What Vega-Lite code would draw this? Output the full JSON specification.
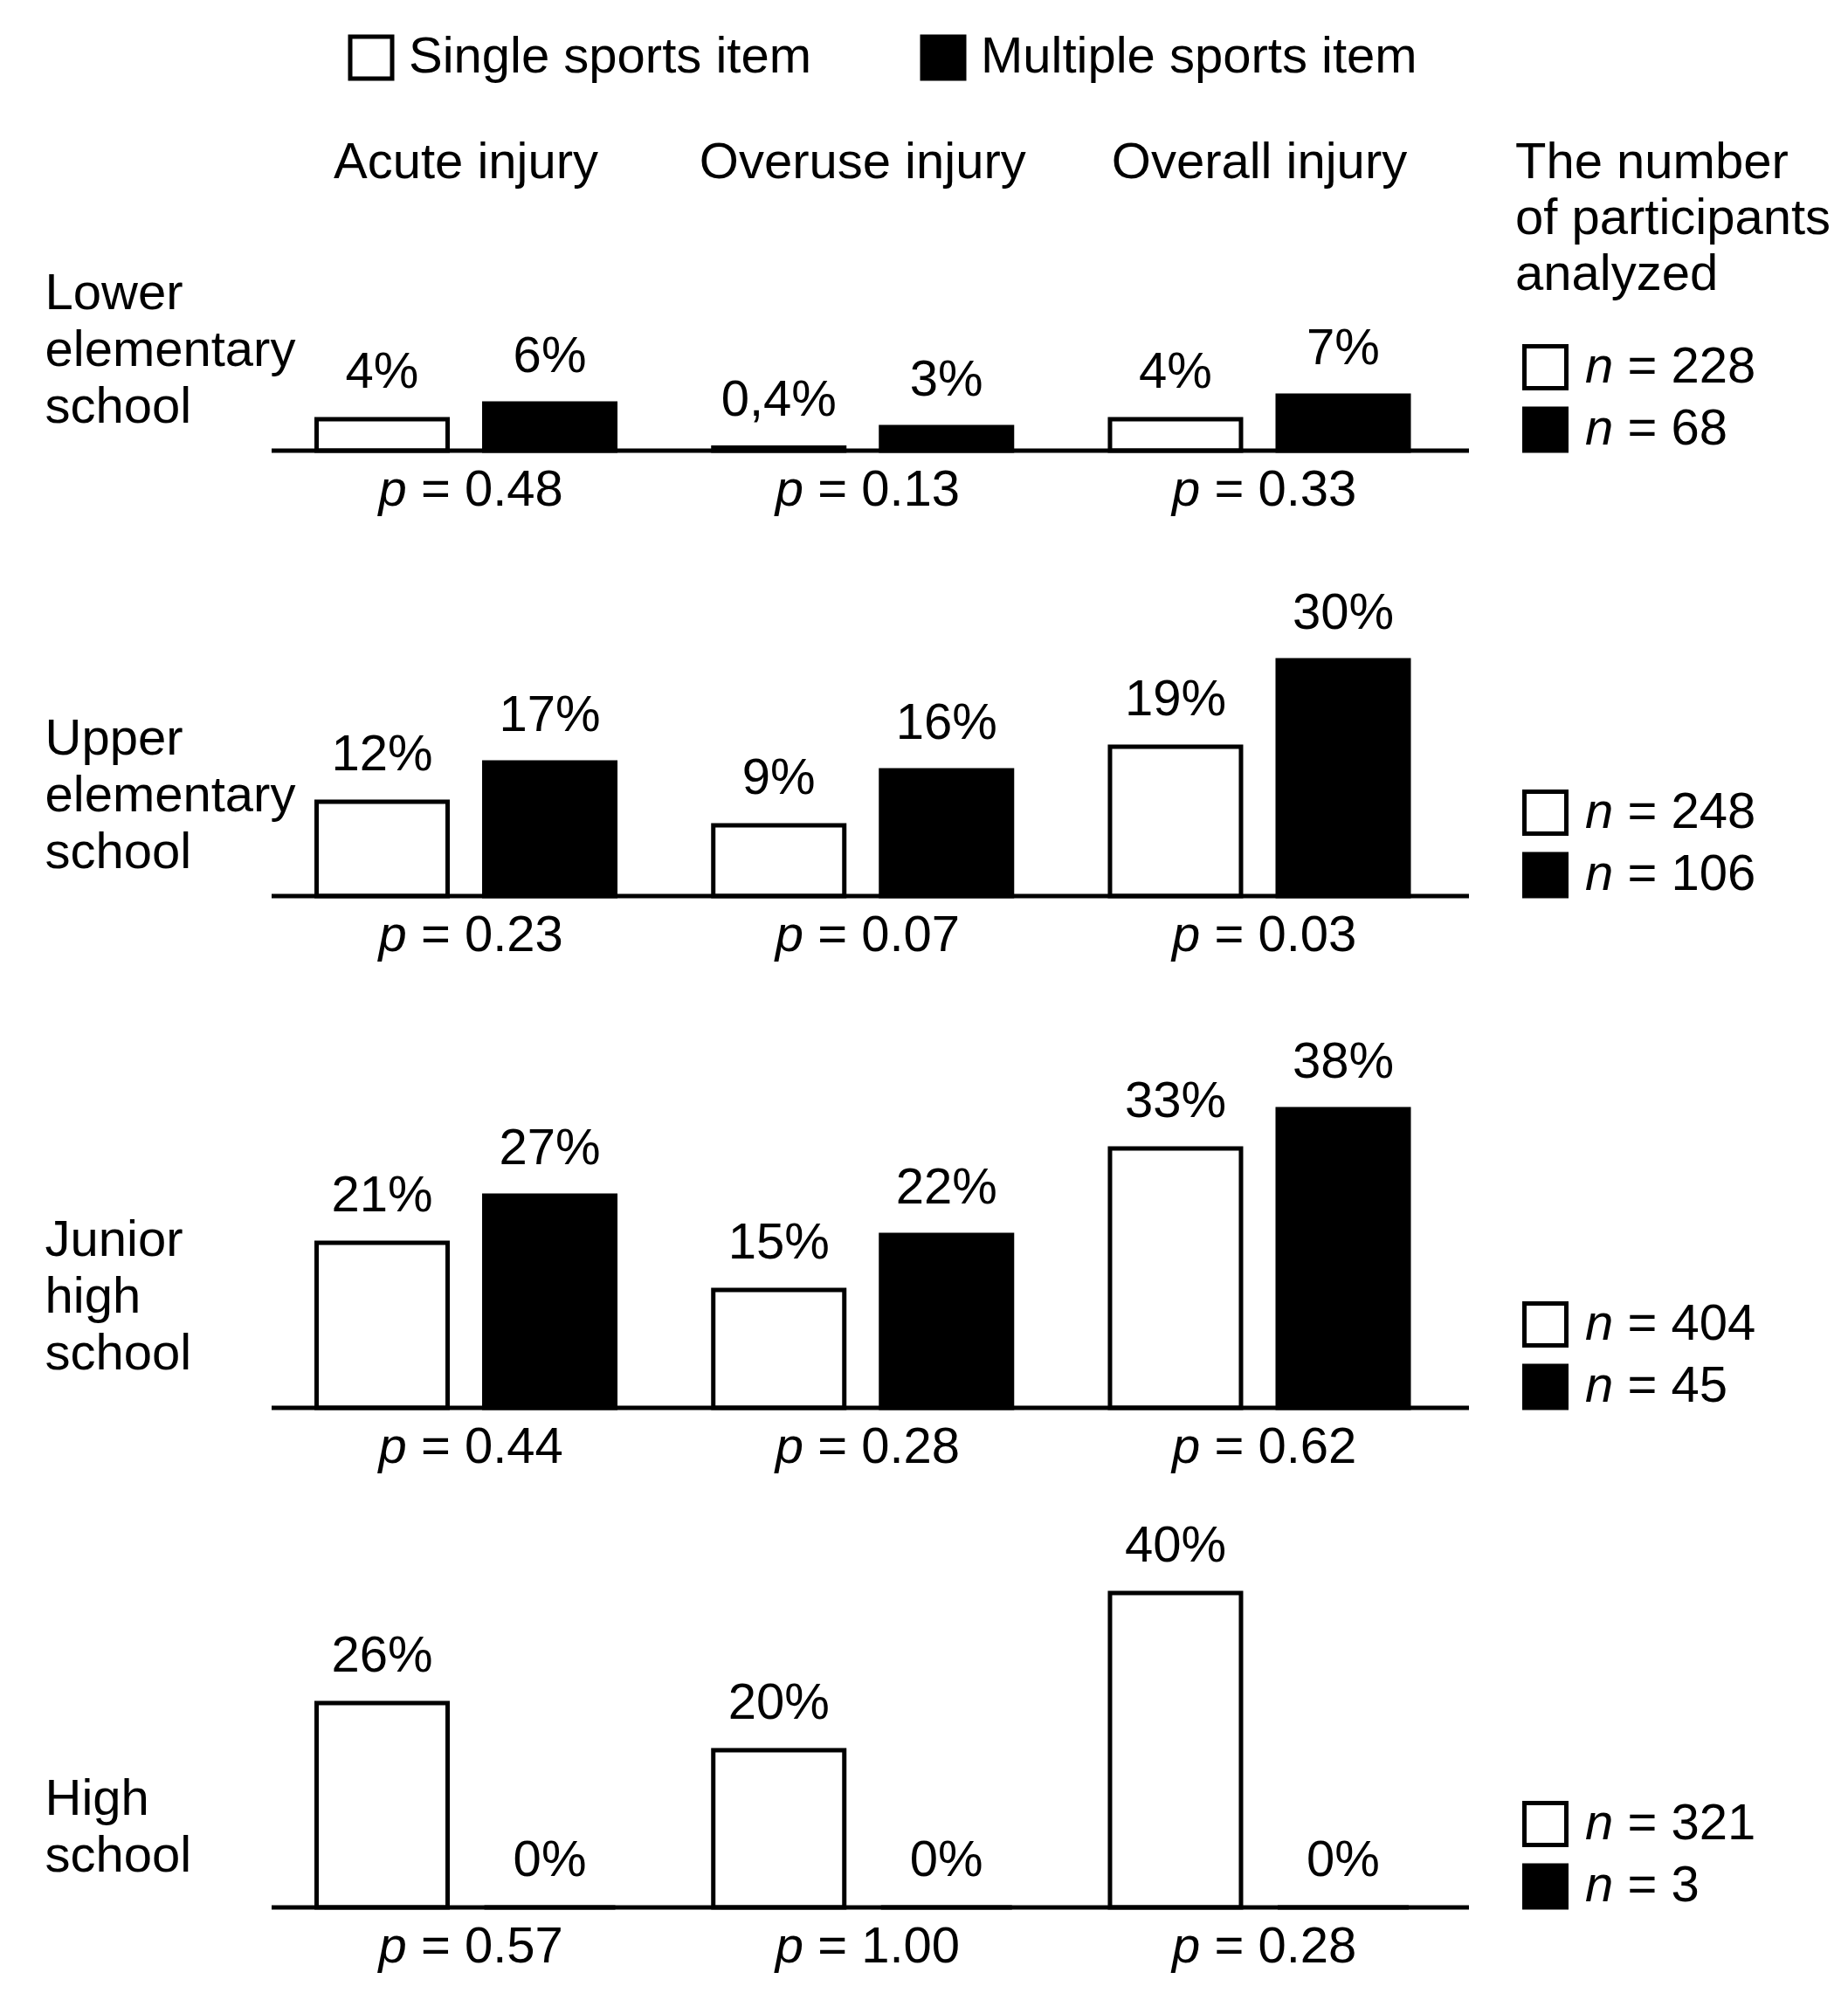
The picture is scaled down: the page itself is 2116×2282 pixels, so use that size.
{
  "$schema": "https://vega.github.io/schema/vega-lite/v6.json",
  "background": "white",
  "padding": {"left": 51, "top": 0, "right": 0, "bottom": 0},
  "autosize": {"type": "pad"},
  "bounds": "flush",
  "spacing": 0,
  "datasets": {
    "injuries": [
      {"injury": "Acute injury"},
      {"injury": "Overuse injury"},
      {"injury": "Overall injury"}
    ],
    "bars": [
      {"school": "Lower elementary school", "injury": "Acute injury", "item": "Single sports item", "value": 4, "label": "4%"},
      {"school": "Lower elementary school", "injury": "Acute injury", "item": "Multiple sports item", "value": 6, "label": "6%"},
      {"school": "Lower elementary school", "injury": "Overuse injury", "item": "Single sports item", "value": 0.4, "label": "0,4%"},
      {"school": "Lower elementary school", "injury": "Overuse injury", "item": "Multiple sports item", "value": 3, "label": "3%"},
      {"school": "Lower elementary school", "injury": "Overall injury", "item": "Single sports item", "value": 4, "label": "4%"},
      {"school": "Lower elementary school", "injury": "Overall injury", "item": "Multiple sports item", "value": 7, "label": "7%"},
      {"school": "Upper elementary school", "injury": "Acute injury", "item": "Single sports item", "value": 12, "label": "12%"},
      {"school": "Upper elementary school", "injury": "Acute injury", "item": "Multiple sports item", "value": 17, "label": "17%"},
      {"school": "Upper elementary school", "injury": "Overuse injury", "item": "Single sports item", "value": 9, "label": "9%"},
      {"school": "Upper elementary school", "injury": "Overuse injury", "item": "Multiple sports item", "value": 16, "label": "16%"},
      {"school": "Upper elementary school", "injury": "Overall injury", "item": "Single sports item", "value": 19, "label": "19%"},
      {"school": "Upper elementary school", "injury": "Overall injury", "item": "Multiple sports item", "value": 30, "label": "30%"},
      {"school": "Junior high school", "injury": "Acute injury", "item": "Single sports item", "value": 21, "label": "21%"},
      {"school": "Junior high school", "injury": "Acute injury", "item": "Multiple sports item", "value": 27, "label": "27%"},
      {"school": "Junior high school", "injury": "Overuse injury", "item": "Single sports item", "value": 15, "label": "15%"},
      {"school": "Junior high school", "injury": "Overuse injury", "item": "Multiple sports item", "value": 22, "label": "22%"},
      {"school": "Junior high school", "injury": "Overall injury", "item": "Single sports item", "value": 33, "label": "33%"},
      {"school": "Junior high school", "injury": "Overall injury", "item": "Multiple sports item", "value": 38, "label": "38%"},
      {"school": "High school", "injury": "Acute injury", "item": "Single sports item", "value": 26, "label": "26%"},
      {"school": "High school", "injury": "Acute injury", "item": "Multiple sports item", "value": 0, "label": "0%"},
      {"school": "High school", "injury": "Overuse injury", "item": "Single sports item", "value": 20, "label": "20%"},
      {"school": "High school", "injury": "Overuse injury", "item": "Multiple sports item", "value": 0, "label": "0%"},
      {"school": "High school", "injury": "Overall injury", "item": "Single sports item", "value": 40, "label": "40%"},
      {"school": "High school", "injury": "Overall injury", "item": "Multiple sports item", "value": 0, "label": "0%"}
    ],
    "pvals": [
      {"school": "Lower elementary school", "injury": "Acute injury", "p": 0.48},
      {"school": "Lower elementary school", "injury": "Overuse injury", "p": 0.13},
      {"school": "Lower elementary school", "injury": "Overall injury", "p": 0.33},
      {"school": "Upper elementary school", "injury": "Acute injury", "p": 0.23},
      {"school": "Upper elementary school", "injury": "Overuse injury", "p": 0.07},
      {"school": "Upper elementary school", "injury": "Overall injury", "p": 0.03},
      {"school": "Junior high school", "injury": "Acute injury", "p": 0.44},
      {"school": "Junior high school", "injury": "Overuse injury", "p": 0.28},
      {"school": "Junior high school", "injury": "Overall injury", "p": 0.62},
      {"school": "High school", "injury": "Acute injury", "p": 0.57},
      {"school": "High school", "injury": "Overuse injury", "p": 1.00},
      {"school": "High school", "injury": "Overall injury", "p": 0.28}
    ],
    "ns": [
      {"school": "Lower elementary school", "item": "Single sports item", "n": 228},
      {"school": "Lower elementary school", "item": "Multiple sports item", "n": 68},
      {"school": "Upper elementary school", "item": "Single sports item", "n": 248},
      {"school": "Upper elementary school", "item": "Multiple sports item", "n": 106},
      {"school": "Junior high school", "item": "Single sports item", "n": 404},
      {"school": "Junior high school", "item": "Multiple sports item", "n": 45},
      {"school": "High school", "item": "Single sports item", "n": 321},
      {"school": "High school", "item": "Multiple sports item", "n": 3}
    ]
  },
  "vconcat": [
    {
      "width": 1371, "height": 230,
      "layer": [
        {
          "data": {"name": "injuries"},
          "mark": {"type": "text", "baseline": "alphabetic", "dy": 89, "font": "Liberation Sans", "fontSize": 58, "color": "black"},
          "encoding": {
            "x": {"field": "injury", "type": "nominal", "sort": ["Acute injury", "Overuse injury", "Overall injury"], "scale": {"type": "band", "range": [51.5, 1302], "paddingInner": 0.247, "paddingOuter": 0}, "axis": null},
            "text": {"field": "injury", "type": "nominal"}
          }
        },
        {
          "data": {"values": [{"note": "header"}]},
          "mark": {"type": "text", "align": "left", "baseline": "alphabetic", "dx": 738.5, "dy": 89, "lineHeight": 64, "font": "Liberation Sans", "fontSize": 58, "color": "black", "text": ["The number", "of participants", "analyzed"]}
        }
      ]
    },
    {
      "width": 1371, "height": 286,
      "resolve": {"scale": {"y": "independent"}, "axis": {"y": "independent"}},
      "layer": [
        {
          "encoding": {
            "x": {"field": "injury", "type": "nominal", "sort": ["Acute injury", "Overuse injury", "Overall injury"], "scale": {"type": "band", "range": [51.5, 1302], "paddingInner": 0.247, "paddingOuter": 0}, "axis": null}
          },
          "layer": [
            {
              "data": {"name": "bars"},
              "transform": [{"filter": {"field": "school", "equal": "Lower elementary school"}}],
              "encoding": {
                "xOffset": {"field": "item", "type": "nominal", "sort": ["Single sports item", "Multiple sports item"], "scale": {"paddingInner": 0.21875, "paddingOuter": 0}},
                "y": {"field": "value", "type": "quantitative", "scale": {"domain": [0, 31.78], "nice": false, "zero": true}, "axis": {"title": ["Lower", "elementary", "school"], "domain": false, "ticks": false, "labels": false, "grid": false, "titleAngle": 0, "titleAlign": "left", "titleBaseline": "alphabetic", "titleX": -260, "titleY": 123, "titleFont": "Liberation Sans", "titleFontSize": 58, "titleFontWeight": "normal", "titleLineHeight": 65, "titleColor": "black"}}
              },
              "layer": [
                {"mark": {"type": "bar", "stroke": "black", "strokeWidth": 5},
                 "encoding": {"fill": {"field": "item", "type": "nominal", "scale": {"domain": ["Single sports item", "Multiple sports item"], "range": ["white", "black"]}, "legend": {"title": null, "orient": "none", "legendX": 85, "legendY": 37, "direction": "horizontal", "symbolType": "square", "symbolSize": 2304, "symbolStrokeWidth": 5, "symbolStrokeColor": "black", "symbolOpacity": 1, "labelFont": "Liberation Sans", "labelFontSize": 58, "labelColor": "black", "labelLimit": 1000, "labelOffset": 14, "columnPadding": 117, "padding": 0}}}},
                {"mark": {"type": "text", "baseline": "alphabetic", "dy": -36, "font": "Liberation Sans", "fontSize": 58, "color": "black"},
                 "encoding": {"text": {"field": "label", "type": "nominal"}}}
              ]
            },
            {
              "data": {"name": "pvals"},
              "transform": [{"filter": {"field": "school", "equal": "Lower elementary school"}}],
              "layer": [
                {"mark": {"type": "text", "align": "left", "baseline": "alphabetic", "dx": -100, "dy": 206, "font": "Liberation Sans", "fontStyle": "italic", "fontSize": 58, "color": "black"}, "encoding": {"text": {"value": "p"}}},
                {"mark": {"type": "text", "align": "left", "baseline": "alphabetic", "dx": -51.6, "dy": 206, "font": "Liberation Sans", "fontSize": 58, "color": "black"}, "encoding": {"text": {"value": "="}}},
                {"mark": {"type": "text", "align": "left", "baseline": "alphabetic", "dx": -1.6, "dy": 206, "font": "Liberation Sans", "fontSize": 58, "color": "black"}, "encoding": {"text": {"field": "p", "type": "quantitative", "format": ".2f"}}}
              ]
            }
          ]
        },
        {
          "data": {"values": [{"note": "baseline"}]},
          "mark": {"type": "rule", "strokeWidth": 5, "color": "black"},
          "encoding": {"y": {"datum": 0, "type": "quantitative", "scale": {"domain": [0, 10]}, "axis": null}}
        },
        {
          "data": {"name": "ns"},
          "transform": [{"filter": {"field": "school", "equal": "Lower elementary school"}}],
          "encoding": {"y": {"field": "item", "type": "nominal", "sort": ["Single sports item", "Multiple sports item"], "scale": {"type": "point", "range": [190.5, 262], "padding": 0}, "axis": null}},
          "layer": [
            {"mark": {"type": "point", "shape": "square", "size": 2304, "filled": true, "stroke": "black", "strokeWidth": 5, "opacity": 1, "xOffset": 773},
             "encoding": {"fill": {"field": "item", "type": "nominal", "scale": {"domain": ["Single sports item", "Multiple sports item"], "range": ["white", "black"]}, "legend": {"title": null, "orient": "none", "legendX": 85, "legendY": 37, "direction": "horizontal", "symbolType": "square", "symbolSize": 2304, "symbolStrokeWidth": 5, "symbolStrokeColor": "black", "symbolOpacity": 1, "labelFont": "Liberation Sans", "labelFontSize": 58, "labelColor": "black", "labelLimit": 1000, "labelOffset": 14, "columnPadding": 117, "padding": 0}}}},
            {"mark": {"type": "text", "align": "left", "baseline": "middle", "dx": 818.5, "font": "Liberation Sans", "fontStyle": "italic", "fontSize": 58, "color": "black"}, "encoding": {"text": {"value": "n"}}},
            {"mark": {"type": "text", "align": "left", "baseline": "middle", "dx": 866.9, "font": "Liberation Sans", "fontSize": 58, "color": "black"}, "encoding": {"text": {"value": "="}}},
            {"mark": {"type": "text", "align": "left", "baseline": "middle", "dx": 916.9, "font": "Liberation Sans", "fontSize": 58, "color": "black"}, "encoding": {"text": {"field": "n", "type": "quantitative", "format": "d"}}}
          ]
        }
      ]
    },
    {
      "width": 1371, "height": 510,
      "resolve": {"scale": {"y": "independent"}, "axis": {"y": "independent"}},
      "layer": [
        {
          "encoding": {
            "x": {"field": "injury", "type": "nominal", "sort": ["Acute injury", "Overuse injury", "Overall injury"], "scale": {"type": "band", "range": [51.5, 1302], "paddingInner": 0.247, "paddingOuter": 0}, "axis": null}
          },
          "layer": [
            {
              "data": {"name": "bars"},
              "transform": [{"filter": {"field": "school", "equal": "Upper elementary school"}}],
              "encoding": {
                "xOffset": {"field": "item", "type": "nominal", "sort": ["Single sports item", "Multiple sports item"], "scale": {"paddingInner": 0.21875, "paddingOuter": 0}},
                "y": {"field": "value", "type": "quantitative", "scale": {"domain": [0, 56.67], "nice": false, "zero": true}, "axis": {"title": ["Upper", "elementary", "school"], "domain": false, "ticks": false, "labels": false, "grid": false, "titleAngle": 0, "titleAlign": "left", "titleBaseline": "alphabetic", "titleX": -260, "titleY": 347, "titleFont": "Liberation Sans", "titleFontSize": 58, "titleFontWeight": "normal", "titleLineHeight": 65, "titleColor": "black"}}
              },
              "layer": [
                {"mark": {"type": "bar", "stroke": "black", "strokeWidth": 5},
                 "encoding": {"fill": {"field": "item", "type": "nominal", "scale": {"domain": ["Single sports item", "Multiple sports item"], "range": ["white", "black"]}, "legend": {"title": null, "orient": "none", "legendX": 85, "legendY": 37, "direction": "horizontal", "symbolType": "square", "symbolSize": 2304, "symbolStrokeWidth": 5, "symbolStrokeColor": "black", "symbolOpacity": 1, "labelFont": "Liberation Sans", "labelFontSize": 58, "labelColor": "black", "labelLimit": 1000, "labelOffset": 14, "columnPadding": 117, "padding": 0}}}},
                {"mark": {"type": "text", "baseline": "alphabetic", "dy": -36, "font": "Liberation Sans", "fontSize": 58, "color": "black"},
                 "encoding": {"text": {"field": "label", "type": "nominal"}}}
              ]
            },
            {
              "data": {"name": "pvals"},
              "transform": [{"filter": {"field": "school", "equal": "Upper elementary school"}}],
              "layer": [
                {"mark": {"type": "text", "align": "left", "baseline": "alphabetic", "dx": -100, "dy": 318, "font": "Liberation Sans", "fontStyle": "italic", "fontSize": 58, "color": "black"}, "encoding": {"text": {"value": "p"}}},
                {"mark": {"type": "text", "align": "left", "baseline": "alphabetic", "dx": -51.6, "dy": 318, "font": "Liberation Sans", "fontSize": 58, "color": "black"}, "encoding": {"text": {"value": "="}}},
                {"mark": {"type": "text", "align": "left", "baseline": "alphabetic", "dx": -1.6, "dy": 318, "font": "Liberation Sans", "fontSize": 58, "color": "black"}, "encoding": {"text": {"field": "p", "type": "quantitative", "format": ".2f"}}}
              ]
            }
          ]
        },
        {
          "data": {"values": [{"note": "baseline"}]},
          "mark": {"type": "rule", "strokeWidth": 5, "color": "black"},
          "encoding": {"y": {"datum": 0, "type": "quantitative", "scale": {"domain": [0, 10]}, "axis": null}}
        },
        {
          "data": {"name": "ns"},
          "transform": [{"filter": {"field": "school", "equal": "Upper elementary school"}}],
          "encoding": {"y": {"field": "item", "type": "nominal", "sort": ["Single sports item", "Multiple sports item"], "scale": {"type": "point", "range": [414.5, 486], "padding": 0}, "axis": null}},
          "layer": [
            {"mark": {"type": "point", "shape": "square", "size": 2304, "filled": true, "stroke": "black", "strokeWidth": 5, "opacity": 1, "xOffset": 773},
             "encoding": {"fill": {"field": "item", "type": "nominal", "scale": {"domain": ["Single sports item", "Multiple sports item"], "range": ["white", "black"]}, "legend": {"title": null, "orient": "none", "legendX": 85, "legendY": 37, "direction": "horizontal", "symbolType": "square", "symbolSize": 2304, "symbolStrokeWidth": 5, "symbolStrokeColor": "black", "symbolOpacity": 1, "labelFont": "Liberation Sans", "labelFontSize": 58, "labelColor": "black", "labelLimit": 1000, "labelOffset": 14, "columnPadding": 117, "padding": 0}}}},
            {"mark": {"type": "text", "align": "left", "baseline": "middle", "dx": 818.5, "font": "Liberation Sans", "fontStyle": "italic", "fontSize": 58, "color": "black"}, "encoding": {"text": {"value": "n"}}},
            {"mark": {"type": "text", "align": "left", "baseline": "middle", "dx": 866.9, "font": "Liberation Sans", "fontSize": 58, "color": "black"}, "encoding": {"text": {"value": "="}}},
            {"mark": {"type": "text", "align": "left", "baseline": "middle", "dx": 916.9, "font": "Liberation Sans", "fontSize": 58, "color": "black"}, "encoding": {"text": {"field": "n", "type": "quantitative", "format": "d"}}}
          ]
        }
      ]
    },
    {
      "width": 1371, "height": 586,
      "resolve": {"scale": {"y": "independent"}, "axis": {"y": "independent"}},
      "layer": [
        {
          "encoding": {
            "x": {"field": "injury", "type": "nominal", "sort": ["Acute injury", "Overuse injury", "Overall injury"], "scale": {"type": "band", "range": [51.5, 1302], "paddingInner": 0.247, "paddingOuter": 0}, "axis": null}
          },
          "layer": [
            {
              "data": {"name": "bars"},
              "transform": [{"filter": {"field": "school", "equal": "Junior high school"}}],
              "encoding": {
                "xOffset": {"field": "item", "type": "nominal", "sort": ["Single sports item", "Multiple sports item"], "scale": {"paddingInner": 0.21875, "paddingOuter": 0}},
                "y": {"field": "value", "type": "quantitative", "scale": {"domain": [0, 65.11], "nice": false, "zero": true}, "axis": {"title": ["Junior", "high", "school"], "domain": false, "ticks": false, "labels": false, "grid": false, "titleAngle": 0, "titleAlign": "left", "titleBaseline": "alphabetic", "titleX": -260, "titleY": 411, "titleFont": "Liberation Sans", "titleFontSize": 58, "titleFontWeight": "normal", "titleLineHeight": 65, "titleColor": "black"}}
              },
              "layer": [
                {"mark": {"type": "bar", "stroke": "black", "strokeWidth": 5},
                 "encoding": {"fill": {"field": "item", "type": "nominal", "scale": {"domain": ["Single sports item", "Multiple sports item"], "range": ["white", "black"]}, "legend": {"title": null, "orient": "none", "legendX": 85, "legendY": 37, "direction": "horizontal", "symbolType": "square", "symbolSize": 2304, "symbolStrokeWidth": 5, "symbolStrokeColor": "black", "symbolOpacity": 1, "labelFont": "Liberation Sans", "labelFontSize": 58, "labelColor": "black", "labelLimit": 1000, "labelOffset": 14, "columnPadding": 117, "padding": 0}}}},
                {"mark": {"type": "text", "baseline": "alphabetic", "dy": -36, "font": "Liberation Sans", "fontSize": 58, "color": "black"},
                 "encoding": {"text": {"field": "label", "type": "nominal"}}}
              ]
            },
            {
              "data": {"name": "pvals"},
              "transform": [{"filter": {"field": "school", "equal": "Junior high school"}}],
              "layer": [
                {"mark": {"type": "text", "align": "left", "baseline": "alphabetic", "dx": -100, "dy": 356, "font": "Liberation Sans", "fontStyle": "italic", "fontSize": 58, "color": "black"}, "encoding": {"text": {"value": "p"}}},
                {"mark": {"type": "text", "align": "left", "baseline": "alphabetic", "dx": -51.6, "dy": 356, "font": "Liberation Sans", "fontSize": 58, "color": "black"}, "encoding": {"text": {"value": "="}}},
                {"mark": {"type": "text", "align": "left", "baseline": "alphabetic", "dx": -1.6, "dy": 356, "font": "Liberation Sans", "fontSize": 58, "color": "black"}, "encoding": {"text": {"field": "p", "type": "quantitative", "format": ".2f"}}}
              ]
            }
          ]
        },
        {
          "data": {"values": [{"note": "baseline"}]},
          "mark": {"type": "rule", "strokeWidth": 5, "color": "black"},
          "encoding": {"y": {"datum": 0, "type": "quantitative", "scale": {"domain": [0, 10]}, "axis": null}}
        },
        {
          "data": {"name": "ns"},
          "transform": [{"filter": {"field": "school", "equal": "Junior high school"}}],
          "encoding": {"y": {"field": "item", "type": "nominal", "sort": ["Single sports item", "Multiple sports item"], "scale": {"type": "point", "range": [490.5, 562], "padding": 0}, "axis": null}},
          "layer": [
            {"mark": {"type": "point", "shape": "square", "size": 2304, "filled": true, "stroke": "black", "strokeWidth": 5, "opacity": 1, "xOffset": 773},
             "encoding": {"fill": {"field": "item", "type": "nominal", "scale": {"domain": ["Single sports item", "Multiple sports item"], "range": ["white", "black"]}, "legend": {"title": null, "orient": "none", "legendX": 85, "legendY": 37, "direction": "horizontal", "symbolType": "square", "symbolSize": 2304, "symbolStrokeWidth": 5, "symbolStrokeColor": "black", "symbolOpacity": 1, "labelFont": "Liberation Sans", "labelFontSize": 58, "labelColor": "black", "labelLimit": 1000, "labelOffset": 14, "columnPadding": 117, "padding": 0}}}},
            {"mark": {"type": "text", "align": "left", "baseline": "middle", "dx": 818.5, "font": "Liberation Sans", "fontStyle": "italic", "fontSize": 58, "color": "black"}, "encoding": {"text": {"value": "n"}}},
            {"mark": {"type": "text", "align": "left", "baseline": "middle", "dx": 866.9, "font": "Liberation Sans", "fontSize": 58, "color": "black"}, "encoding": {"text": {"value": "="}}},
            {"mark": {"type": "text", "align": "left", "baseline": "middle", "dx": 916.9, "font": "Liberation Sans", "fontSize": 58, "color": "black"}, "encoding": {"text": {"field": "n", "type": "quantitative", "format": "d"}}}
          ]
        }
      ]
    },
    {
      "width": 1371, "height": 572,
      "resolve": {"scale": {"y": "independent"}, "axis": {"y": "independent"}},
      "layer": [
        {
          "encoding": {
            "x": {"field": "injury", "type": "nominal", "sort": ["Acute injury", "Overuse injury", "Overall injury"], "scale": {"type": "band", "range": [51.5, 1302], "paddingInner": 0.247, "paddingOuter": 0}, "axis": null}
          },
          "layer": [
            {
              "data": {"name": "bars"},
              "transform": [{"filter": {"field": "school", "equal": "High school"}}],
              "encoding": {
                "xOffset": {"field": "item", "type": "nominal", "sort": ["Single sports item", "Multiple sports item"], "scale": {"paddingInner": 0.21875, "paddingOuter": 0}},
                "y": {"field": "value", "type": "quantitative", "scale": {"domain": [0, 63.56], "nice": false, "zero": true}, "axis": {"title": ["High", "school"], "domain": false, "ticks": false, "labels": false, "grid": false, "titleAngle": 0, "titleAlign": "left", "titleBaseline": "alphabetic", "titleX": -260, "titleY": 465, "titleFont": "Liberation Sans", "titleFontSize": 58, "titleFontWeight": "normal", "titleLineHeight": 65, "titleColor": "black"}}
              },
              "layer": [
                {"mark": {"type": "bar", "stroke": "black", "strokeWidth": 5},
                 "encoding": {"fill": {"field": "item", "type": "nominal", "scale": {"domain": ["Single sports item", "Multiple sports item"], "range": ["white", "black"]}, "legend": {"title": null, "orient": "none", "legendX": 85, "legendY": 37, "direction": "horizontal", "symbolType": "square", "symbolSize": 2304, "symbolStrokeWidth": 5, "symbolStrokeColor": "black", "symbolOpacity": 1, "labelFont": "Liberation Sans", "labelFontSize": 58, "labelColor": "black", "labelLimit": 1000, "labelOffset": 14, "columnPadding": 117, "padding": 0}}}},
                {"mark": {"type": "text", "baseline": "alphabetic", "dy": -36, "font": "Liberation Sans", "fontSize": 58, "color": "black"},
                 "encoding": {"text": {"field": "label", "type": "nominal"}}}
              ]
            },
            {
              "data": {"name": "pvals"},
              "transform": [{"filter": {"field": "school", "equal": "High school"}}],
              "layer": [
                {"mark": {"type": "text", "align": "left", "baseline": "alphabetic", "dx": -100, "dy": 349, "font": "Liberation Sans", "fontStyle": "italic", "fontSize": 58, "color": "black"}, "encoding": {"text": {"value": "p"}}},
                {"mark": {"type": "text", "align": "left", "baseline": "alphabetic", "dx": -51.6, "dy": 349, "font": "Liberation Sans", "fontSize": 58, "color": "black"}, "encoding": {"text": {"value": "="}}},
                {"mark": {"type": "text", "align": "left", "baseline": "alphabetic", "dx": -1.6, "dy": 349, "font": "Liberation Sans", "fontSize": 58, "color": "black"}, "encoding": {"text": {"field": "p", "type": "quantitative", "format": ".2f"}}}
              ]
            }
          ]
        },
        {
          "data": {"values": [{"note": "baseline"}]},
          "mark": {"type": "rule", "strokeWidth": 5, "color": "black"},
          "encoding": {"y": {"datum": 0, "type": "quantitative", "scale": {"domain": [0, 10]}, "axis": null}}
        },
        {
          "data": {"name": "ns"},
          "transform": [{"filter": {"field": "school", "equal": "High school"}}],
          "encoding": {"y": {"field": "item", "type": "nominal", "sort": ["Single sports item", "Multiple sports item"], "scale": {"type": "point", "range": [476.5, 548], "padding": 0}, "axis": null}},
          "layer": [
            {"mark": {"type": "point", "shape": "square", "size": 2304, "filled": true, "stroke": "black", "strokeWidth": 5, "opacity": 1, "xOffset": 773},
             "encoding": {"fill": {"field": "item", "type": "nominal", "scale": {"domain": ["Single sports item", "Multiple sports item"], "range": ["white", "black"]}, "legend": {"title": null, "orient": "none", "legendX": 85, "legendY": 37, "direction": "horizontal", "symbolType": "square", "symbolSize": 2304, "symbolStrokeWidth": 5, "symbolStrokeColor": "black", "symbolOpacity": 1, "labelFont": "Liberation Sans", "labelFontSize": 58, "labelColor": "black", "labelLimit": 1000, "labelOffset": 14, "columnPadding": 117, "padding": 0}}}},
            {"mark": {"type": "text", "align": "left", "baseline": "middle", "dx": 818.5, "font": "Liberation Sans", "fontStyle": "italic", "fontSize": 58, "color": "black"}, "encoding": {"text": {"value": "n"}}},
            {"mark": {"type": "text", "align": "left", "baseline": "middle", "dx": 866.9, "font": "Liberation Sans", "fontSize": 58, "color": "black"}, "encoding": {"text": {"value": "="}}},
            {"mark": {"type": "text", "align": "left", "baseline": "middle", "dx": 916.9, "font": "Liberation Sans", "fontSize": 58, "color": "black"}, "encoding": {"text": {"field": "n", "type": "quantitative", "format": "d"}}}
          ]
        }
      ]
    }
  ],
  "config": {
    "view": {"stroke": null},
    "axis": {"grid": false},
    "font": "Liberation Sans"
  }
}
